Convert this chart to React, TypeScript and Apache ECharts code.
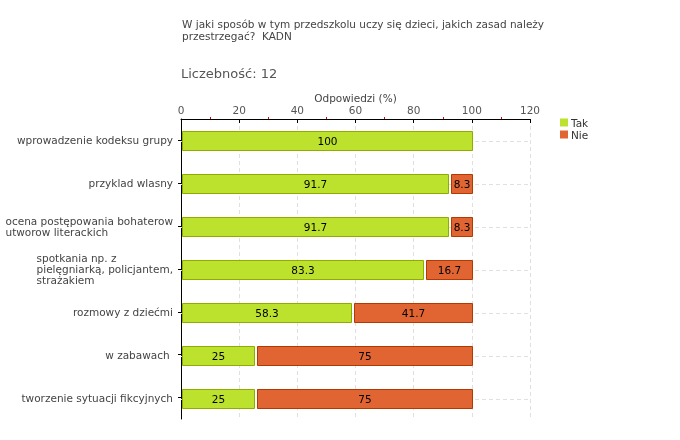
import React, { useEffect, useRef } from "react";
import * as echarts from "echarts";

const titleLines = [
  "W jaki sposób w tym przedszkolu uczy się dzieci, jakich zasad należy",
  "przestrzegać?  KADN",
];
const countLabel = "Liczebność: 12";
const axisName = "Odpowiedzi (%)";
const categories = [
  "wprowadzenie kodeksu grupy",
  "przyklad wlasny",
  "ocena postępowania bohaterow\nutworow literackich",
  "spotkania np. z\npielęgniarką, policjantem,\nstrażakiem",
  "rozmowy z dziećmi",
  "w zabawach ",
  "tworzenie sytuacji fikcyjnych",
];
const takValues = [100, 91.7, 91.7, 83.3, 58.3, 25, 25];
const nieValues = [0, 8.3, 8.3, 16.7, 41.7, 75, 75];
const seriesNames = ["Tak", "Nie"];
const xTicks = [0, 20, 40, 60, 80, 100, 120];

const FONT = "DejaVu Sans";
const GREEN = "#bde22e";
const GREEN_BORDER = "#8fac00";
const ORANGE = "#e06532";
const ORANGE_BORDER = "#b23a00";

export default function App() {
  const ref = useRef<HTMLDivElement>(null);
  useEffect(() => {
    if (!ref.current) return;
    const chart = echarts.init(ref.current, undefined, { renderer: "svg" });
    const xMax = xTicks[xTicks.length - 1];

    const makeRender = (isNie: boolean) => (params: any, api: any) => {
      const cat = api.value(0);
      const s = api.value(1);
      const e = api.value(2);
      const label = api.value(3);
      const p0 = api.coord([s, cat]);
      const p1 = api.coord([e, cat]);
      const h = 20;
      const x0 = Math.round(p0[0]) + (isNie ? 3.5 : 1.5);
      const x1 = Math.round(p1[0]) + 0.5;
      const yc = Math.round(p0[1]) + 1;
      const children: any[] = [];
      if (!isNie) {
        const l0 = api.coord([0, cat]);
        const l1 = api.coord([xMax, cat]);
        children.push({
          type: "line",
          shape: { x1: l0[0], y1: yc + 0.5, x2: l1[0], y2: yc + 0.5 },
          style: { stroke: "#e0e0e0", lineWidth: 1, lineDash: [4, 3] },
        });
      }
      children.push({
        type: "rect",
        shape: { x: x0, y: yc - h / 2 + 0.5, width: x1 - x0, height: h - 1 },
        style: {
          fill: isNie ? ORANGE : GREEN,
          stroke: isNie ? ORANGE_BORDER : GREEN_BORDER,
          lineWidth: 1,
        },
      });
      children.push({
        type: "text",
        style: {
          text: String(label),
          x: (x0 + x1) / 2,
          y: yc - 0.5,
          align: "center",
          verticalAlign: "middle",
          fill: "#000",
          font: `10.5px "${FONT}"`,
        },
      });
      return { type: "group", children };
    };

    const takData = takValues.map((v, i) => [i, 0, v, v]);
    const nieData = nieValues
      .map((v, i) => [i, takValues[i], takValues[i] + v, v])
      .filter((d) => d[3] > 0);

    chart.setOption({
      animation: false,
      textStyle: { fontFamily: FONT },
      title: [
        {
          text: titleLines.join("\n"),
          left: 182,
          top: 18,
          padding: 0,
          textStyle: {
            fontFamily: FONT,
            fontSize: 10.5,
            fontWeight: "normal",
            color: "#444",
            lineHeight: 12,
          },
        },
        {
          text: countLabel,
          left: 181,
          top: 67,
          padding: 0,
          textStyle: {
            fontFamily: FONT,
            fontSize: 13,
            fontWeight: "normal",
            color: "#555",
          },
        },
      ],
      legend: {
        orient: "vertical",
        left: 555,
        top: 112,
        icon: "rect",
        itemWidth: 8,
        itemHeight: 8,
        itemGap: 1,
        textStyle: { fontFamily: FONT, fontSize: 10.5, color: "#333", padding: [0, 0, 0, -2] },
        data: seriesNames,
      },
      grid: { left: 181, right: 150, top: 119, bottom: 21 },
      xAxis: [
        {
          type: "value",
          position: "top",
          min: 0,
          max: xMax,
          interval: 20,
          name: axisName,
          nameLocation: "middle",
          nameGap: 21,
          nameMoveOverlap: false,
          nameTextStyle: {
            fontFamily: FONT,
            fontSize: 10.5,
            color: "#444",
            verticalAlign: "middle",
          },
          axisLine: { show: true, lineStyle: { color: "#000", width: 1 } },
          axisTick: { show: true, inside: true, length: 4, lineStyle: { color: "#000" } },
          axisLabel: { fontFamily: FONT, fontSize: 10.5, color: "#555", margin: 4 },
          splitLine: {
            show: true,
            lineStyle: { color: "#e0e0e0", type: [4, 3], width: 1 },
          },
        },
        {
          type: "value",
          position: "top",
          min: 0,
          max: xMax,
          interval: 20,
          axisLine: { show: false },
          axisTick: { show: false },
          axisLabel: { show: false },
          splitLine: { show: false },
          minorTick: { show: true, splitNumber: 2, length: 2, lineStyle: { color: "#e00000" } },
        },
      ],
      yAxis: {
        type: "category",
        inverse: true,
        data: categories,
        axisLine: { show: true, lineStyle: { color: "#000", width: 1 } },
        axisTick: { show: true, alignWithLabel: true, length: 3, lineStyle: { color: "#000" } },
        splitLine: { show: false },
        axisLabel: {
          margin: 8,
          color: "#444",
          fontFamily: FONT,
          fontSize: 10.5,
          lineHeight: 11,
          formatter: (v: string) =>
            v
              .split("\n")
              .map((l) => `{l|${l}}`)
              .join("\n"),
          rich: {
            l: { align: "left", fontFamily: FONT, fontSize: 10.5, color: "#444", lineHeight: 11 },
          },
        },
      },
      series: [
        {
          name: seriesNames[0],
          type: "custom",
          renderItem: makeRender(false),
          encode: { x: [1, 2], y: 0 },
          itemStyle: { color: GREEN, borderColor: GREEN_BORDER },
          data: takData,
        },
        {
          name: seriesNames[1],
          type: "custom",
          renderItem: makeRender(true),
          encode: { x: [1, 2], y: 0 },
          itemStyle: { color: ORANGE, borderColor: ORANGE_BORDER },
          data: nieData,
        },
      ],
    });
    return () => chart.dispose();
  }, []);
  return (
    <div
      ref={ref}
      style={{ position: "fixed", left: 0, top: 0, width: 680, height: 440 }}
    />
  );
}
